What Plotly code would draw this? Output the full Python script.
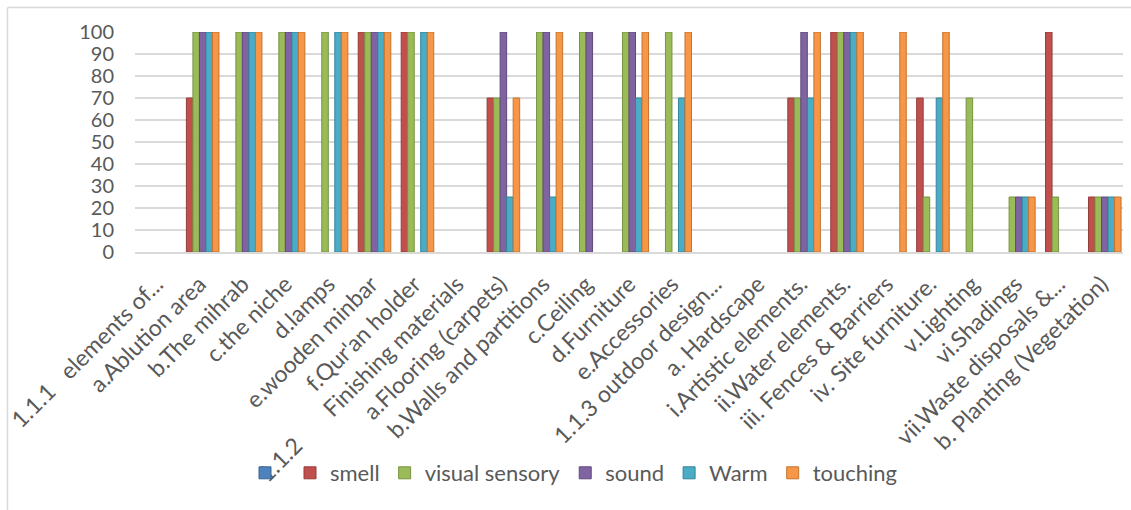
import plotly.graph_objects as go

NB = "\u00a0"
categories = [
    "1.1.1" + NB * 3 + "elements of...",
    "a.Ablution area",
    "b.The mihrab",
    "c.the niche",
    "d.lamps",
    "e.wooden minbar",
    "f.Qur'an holder",
    "1.1.2" + NB * 7 + "Finishing materials",
    "a.Flooring (carpets)",
    "b.Walls and partitions",
    "c.Ceiling",
    "d.Furniture",
    "e.Accessories",
    "1.1.3 outdoor design...",
    "a. Hardscape",
    "i.Artistic elements.",
    "ii.Water elements.",
    "iii. Fences & Barriers",
    "iv. Site furniture.",
    "v.Lighting",
    "vi.Shadings",
    "vii.Waste disposals &...",
    "b. Planting (Vegetation)",
]

blank = [0] * 23
smell =    [0, 70, 0, 0, 0, 100, 100, 0, 70, 0, 0, 0, 0, 0, 0, 70, 100, 0, 70, 0, 0, 100, 25]
visual =   [0, 100, 100, 100, 100, 100, 100, 0, 70, 100, 100, 100, 100, 0, 0, 70, 100, 0, 25, 70, 25, 25, 25]
sound =    [0, 100, 100, 100, 0, 100, 0, 0, 100, 100, 100, 100, 0, 0, 0, 100, 100, 0, 0, 0, 25, 0, 25]
warm =     [0, 100, 100, 100, 100, 100, 100, 0, 25, 25, 0, 70, 70, 0, 0, 70, 100, 0, 70, 0, 25, 0, 25]
touching = [0, 100, 100, 100, 100, 100, 100, 0, 70, 100, 0, 100, 100, 0, 0, 100, 100, 100, 100, 0, 25, 0, 25]

series = [
    ("", blank, "#4F81BD", "#3A6494"),
    ("smell", smell, "#C0504D", "#963C3A"),
    ("visual sensory", visual, "#9BBB59", "#779341"),
    ("sound", sound, "#8064A2", "#604A7D"),
    ("Warm", warm, "#4BACC6", "#31859C"),
    ("touching", touching, "#F79646", "#C4742F"),
]

fig = go.Figure()
for name, vals, col, edge in series:
    fig.add_trace(go.Bar(
        x=categories, y=[v if v else None for v in vals], name=name,
        marker=dict(color=col, line=dict(color=edge, width=1)),
    ))

L, R, T, B = 135, 8, 32, 258
pw, ph = 1131 - L - R, 510 - T - B

def px(x):
    return (x - L) / pw

def py(y):
    return (510 - B - y) / ph

fig.update_layout(
    width=1131, height=510,
    margin=dict(l=L, r=R, t=T, b=B),
    paper_bgcolor="white", plot_bgcolor="white",
    barmode="group", bargap=0.09, bargroupgap=0,
    font=dict(family="Lato, Calibri, sans-serif", color="#595959"),
    showlegend=True,
    legend=dict(
        orientation="h", x=px(574), xanchor="center", y=py(473), yanchor="middle",
        font=dict(size=22, color="#595959"), itemwidth=30, traceorder="normal",
        bgcolor="rgba(0,0,0,0)",
    ),
    xaxis=dict(
        tickangle=-45, tickfont=dict(size=23, color="#595959"),
        showline=True, linecolor="#d9d9d9", linewidth=1.5,
        showgrid=False, ticks="", automargin=False, ticklabelstandoff=8,
    ),
    yaxis=dict(
        range=[0, 100], dtick=10, tickfont=dict(size=20, color="#595959"),
        showgrid=True, gridcolor="#d9d9d9", gridwidth=1.5,
        zeroline=False, ticklabelstandoff=20, showline=False, automargin=False,
    ),
    shapes=[
        dict(type="line", xref="paper", yref="paper", x0=px(7.5), x1=px(7.5), y0=py(7.5), y1=py(520),
             line=dict(color="#d9d9d9", width=1.5)),
        dict(type="line", xref="paper", yref="paper", x0=px(7.5), x1=px(1140), y0=py(7.5), y1=py(7.5),
             line=dict(color="#d9d9d9", width=1.5)),
    ],
)

fig.write_html("out.html")
